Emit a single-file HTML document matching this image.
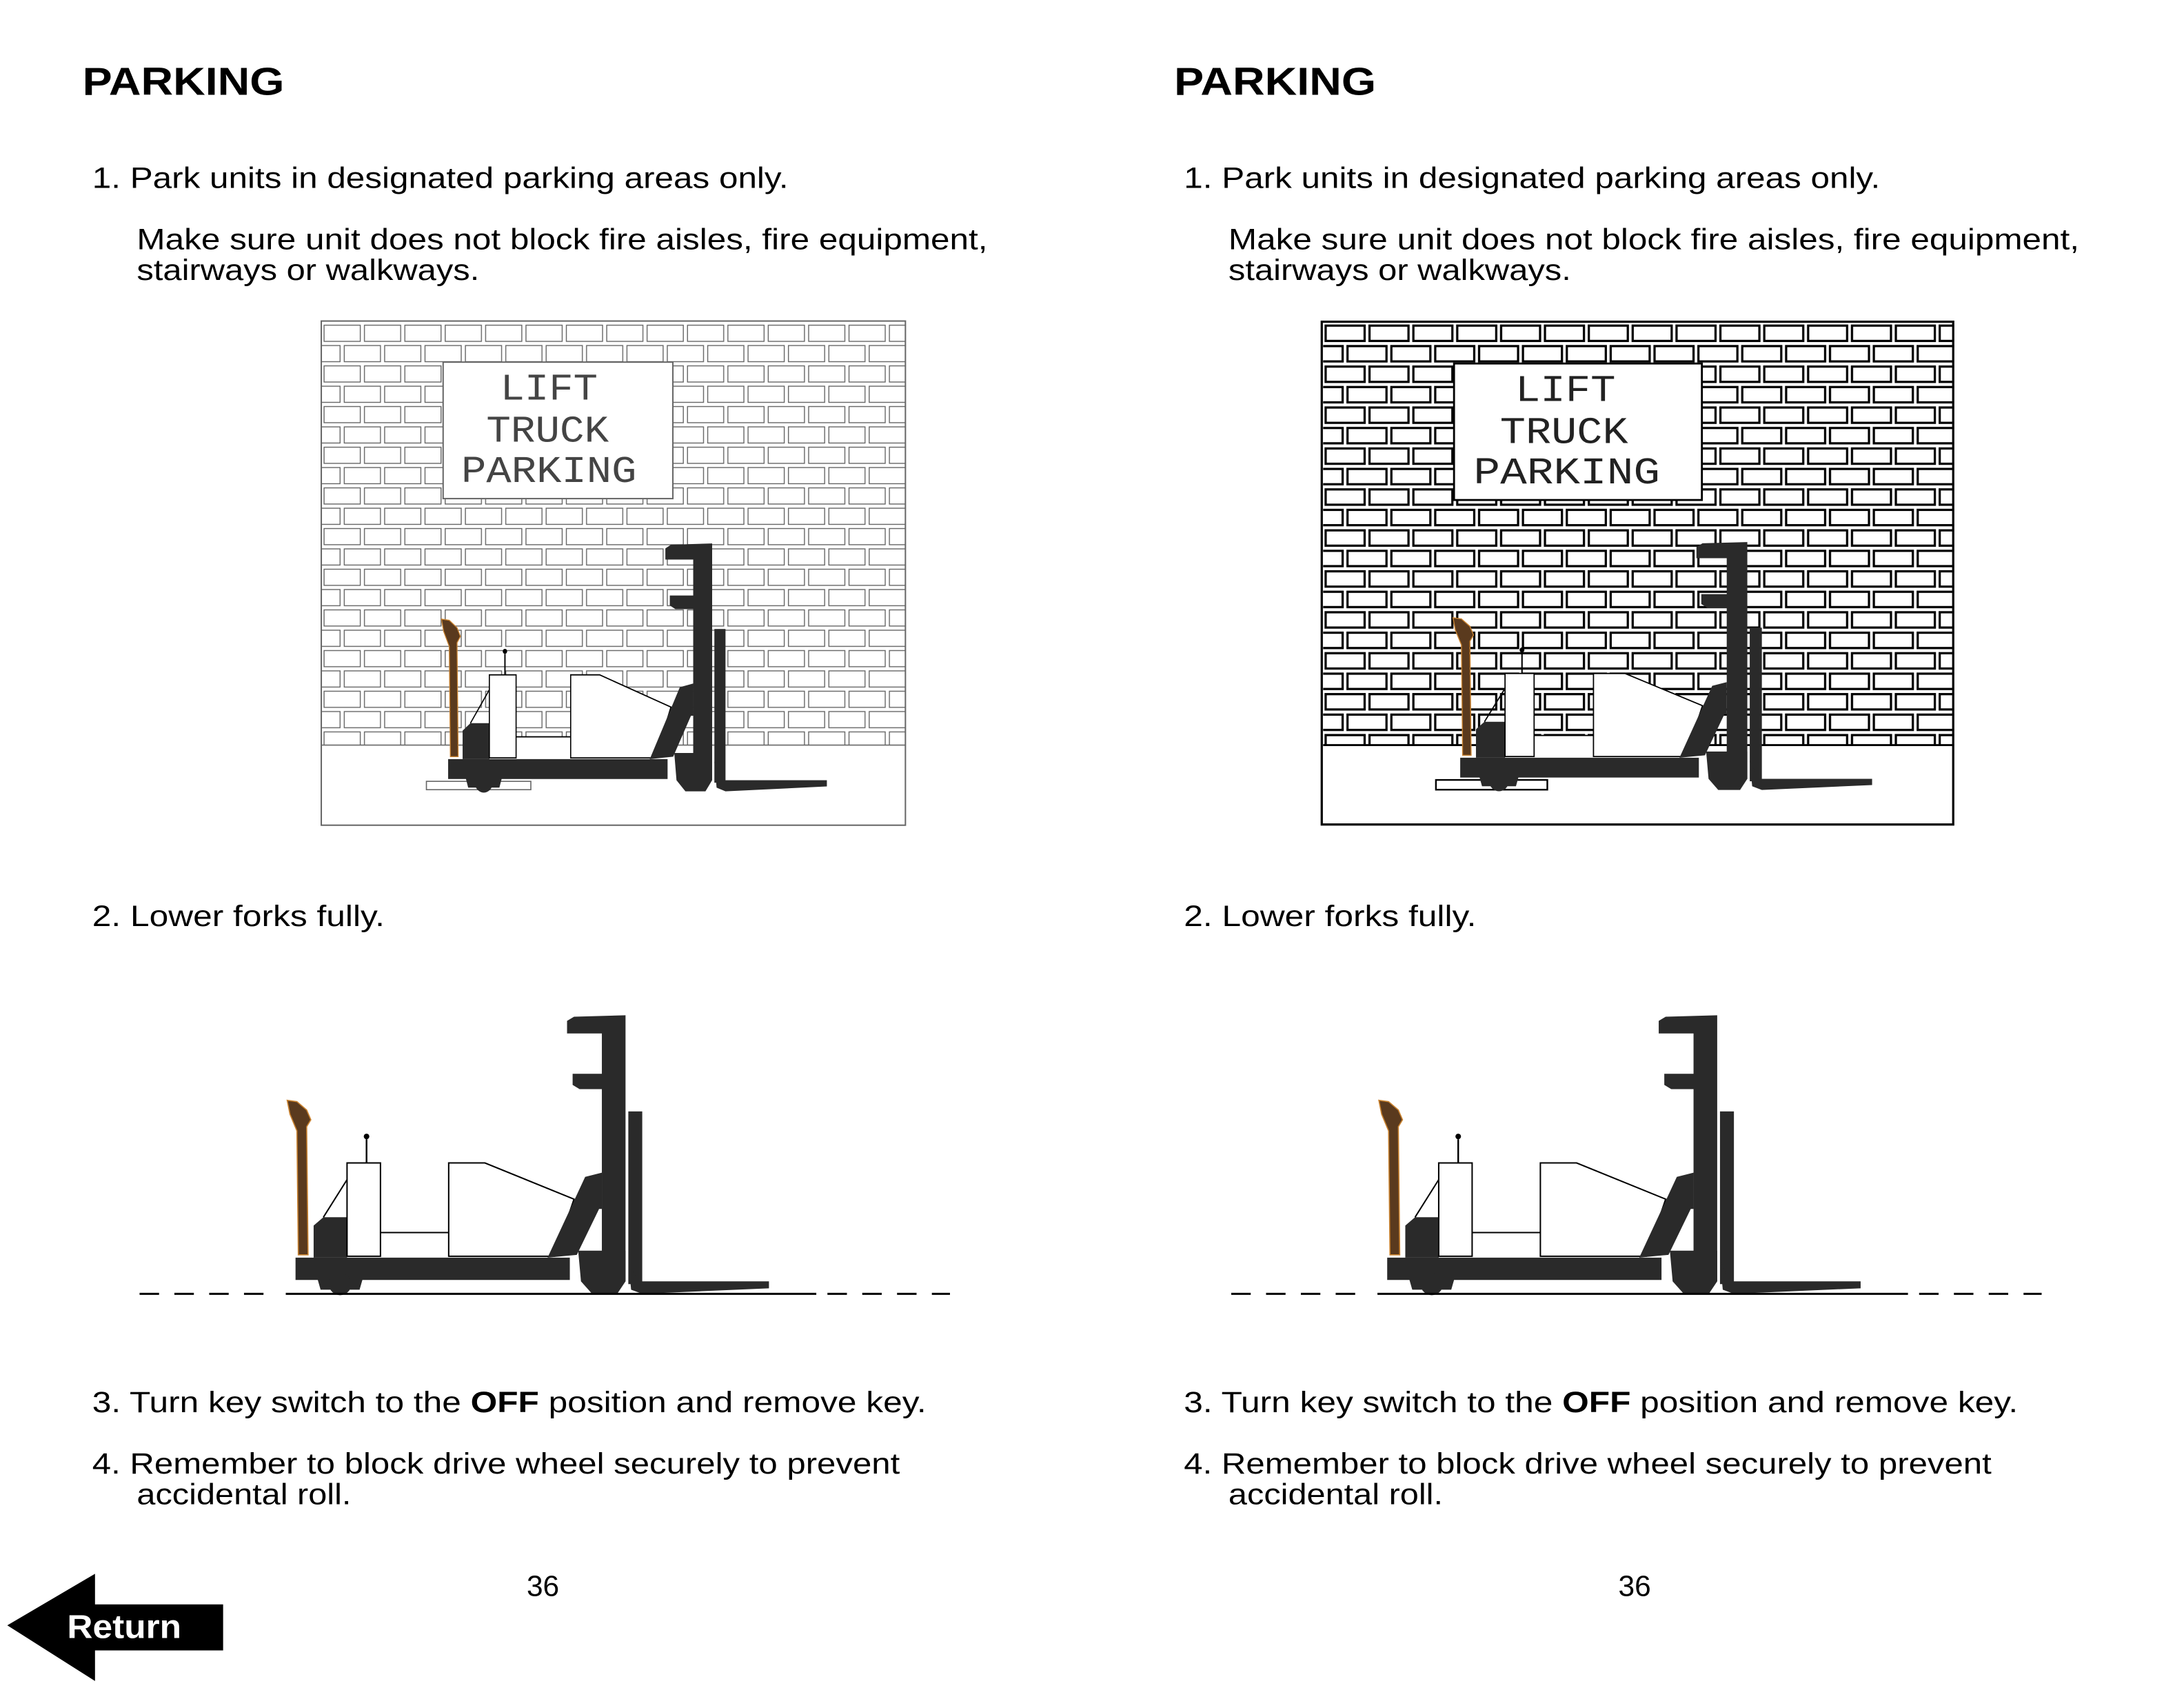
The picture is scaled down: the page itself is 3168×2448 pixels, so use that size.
<!DOCTYPE html>
<html><head><meta charset="utf-8"><style>
html,body{margin:0;padding:0;background:#fff;}
svg{display:block;}
</style></head><body>
<svg width="3168" height="2448" viewBox="0 0 1568 1212" xmlns="http://www.w3.org/2000/svg">
<defs>
<pattern id="bl" x="231" y="232" width="58" height="29.2" patternUnits="userSpaceOnUse">
<g fill="none" stroke="#666" stroke-width="0.7">
<rect x="1.5" y="1.5" width="26" height="11.6"/><rect x="30.5" y="1.5" width="26" height="11.6"/>
<rect x="-13" y="16.1" width="26" height="11.6"/><rect x="16" y="16.1" width="26" height="11.6"/><rect x="45" y="16.1" width="26" height="11.6"/>
</g></pattern>
<pattern id="br" x="950" y="232" width="63" height="29.4" patternUnits="userSpaceOnUse">
<g fill="none" stroke="#000" stroke-width="1.6">
<rect x="1.8" y="1.8" width="28" height="11"/><rect x="33.3" y="1.8" width="28" height="11"/>
<rect x="-14" y="16.5" width="28" height="11"/><rect x="17.5" y="16.5" width="28" height="11"/><rect x="49" y="16.5" width="28" height="11"/>
</g></pattern>
<g id="fk">
<path d="M206,790 L213,791 L220,797 L223,804 L220,809 L221,901 L214,901 L213,812 L208,800 Z" fill="#5a3a1e" stroke="#c9822f" stroke-width="0.8"/>
<rect x="273" y="885" width="49" height="17" fill="#fff"/>
<path d="M322,902 L322,835 L348,835 L412,861 L398,902 Z" fill="#fff" stroke="#000" stroke-width="1"/>
<path d="M212,903 L409,903 L409,919 L260,919 L258,926 L230,926 L228,919 L212,919 Z" fill="#2a2a2a"/>
<circle cx="244" cy="922" r="8" fill="#2a2a2a"/>
<path d="M225,903 L225,880 L232,874 L249,874 L249,903 Z" fill="#2a2a2a"/>
<line x1="232" y1="874" x2="249" y2="847" stroke="#000" stroke-width="1"/>
<rect x="249" y="835" width="24" height="67" fill="#fff" stroke="#000" stroke-width="1"/>
<line x1="263" y1="835" x2="263" y2="818" stroke="#000" stroke-width="1.2"/><circle cx="263" cy="816" r="2" fill="#000"/>
<line x1="273" y1="885" x2="322" y2="885" stroke="#000" stroke-width="1"/>
<path d="M393,903 L420,845 L432,842 L432,868 L430,868 L414,901 Z" fill="#2a2a2a"/>
<path d="M415,898 L449,898 L449,920 L443,929 L425,929 L417,920 Z" fill="#2a2a2a"/>
<path d="M407,733 L412,730 L449,729 L449,920 L432,920 L432,782 L416,782 L411,779 L411,771 L432,771 L432,742 L407,742 Z" fill="#2a2a2a"/>
<rect x="451" y="798" width="10" height="124" fill="#2a2a2a"/>
<path d="M451,905 L458,920 L552,920 L552,925 L461,929 L453,926 Z" fill="#2a2a2a"/>
</g>
</defs>
<g font-family="Liberation Sans, sans-serif" fill="#000">
<text x="59" y="68" font-size="28" font-weight="bold" textLength="145" lengthAdjust="spacingAndGlyphs">PARKING</text>
<text x="843" y="68" font-size="28" font-weight="bold" textLength="145" lengthAdjust="spacingAndGlyphs">PARKING</text>
<g font-size="21">
<text x="66" y="135" textLength="500" lengthAdjust="spacingAndGlyphs">1. Park units in designated parking areas only.</text>
<text x="98" y="179" textLength="611" lengthAdjust="spacingAndGlyphs">Make sure unit does not block fire aisles, fire equipment,</text>
<text x="98" y="201" textLength="246" lengthAdjust="spacingAndGlyphs">stairways or walkways.</text>
<text x="66" y="665" textLength="210" lengthAdjust="spacingAndGlyphs">2. Lower forks fully.</text>
<text x="66" y="1014" textLength="599" lengthAdjust="spacingAndGlyphs">3. Turn key switch to the <tspan font-weight="bold">OFF</tspan> position and remove key.</text>
<text x="66" y="1058" textLength="580" lengthAdjust="spacingAndGlyphs">4. Remember to block drive wheel securely to prevent</text>
<text x="98" y="1080" textLength="154" lengthAdjust="spacingAndGlyphs">accidental roll.</text>
<text x="378" y="1146">36</text>
<g transform="translate(784,0)">
<text x="66" y="135" textLength="500" lengthAdjust="spacingAndGlyphs">1. Park units in designated parking areas only.</text>
<text x="98" y="179" textLength="611" lengthAdjust="spacingAndGlyphs">Make sure unit does not block fire aisles, fire equipment,</text>
<text x="98" y="201" textLength="246" lengthAdjust="spacingAndGlyphs">stairways or walkways.</text>
<text x="66" y="665" textLength="210" lengthAdjust="spacingAndGlyphs">2. Lower forks fully.</text>
<text x="66" y="1014" textLength="599" lengthAdjust="spacingAndGlyphs">3. Turn key switch to the <tspan font-weight="bold">OFF</tspan> position and remove key.</text>
<text x="66" y="1058" textLength="580" lengthAdjust="spacingAndGlyphs">4. Remember to block drive wheel securely to prevent</text>
<text x="98" y="1080" textLength="154" lengthAdjust="spacingAndGlyphs">accidental roll.</text>
<text x="378" y="1146">36</text>
</g>
</g>
</g>
<!-- left panel -->
<rect x="231" y="232" width="419" height="303" fill="url(#bl)"/>
<rect x="230.5" y="230.5" width="419.5" height="362" fill="none" stroke="#666" stroke-width="1"/>
<line x1="231" y1="535" x2="650" y2="535" stroke="#666" stroke-width="0.8"/>
<rect x="318" y="260" width="165" height="98" fill="#fff" stroke="#666" stroke-width="1"/>
<g font-family="Liberation Mono, monospace" font-size="27" fill="#444" text-anchor="middle">
<text x="394" y="287" textLength="70" lengthAdjust="spacingAndGlyphs">LIFT</text>
<text x="393" y="317" textLength="88" lengthAdjust="spacingAndGlyphs">TRUCK</text>
<text x="394" y="346" textLength="126" lengthAdjust="spacingAndGlyphs">PARKING</text>
</g>
<rect x="306" y="561" width="75" height="6" fill="#fff" stroke="#666" stroke-width="0.8"/>
<use href="#fk" transform="matrix(0.8 0 0 0.89 152 -258.6)"/>
<!-- right panel -->
<rect x="950" y="232" width="452" height="303" fill="url(#br)"/>
<rect x="949" y="231" width="453.5" height="361" fill="none" stroke="#000" stroke-width="1.6"/>
<line x1="950" y1="535" x2="1402" y2="535" stroke="#000" stroke-width="1.4"/>
<rect x="1044" y="261" width="178" height="98" fill="#fff" stroke="#000" stroke-width="1.4"/>
<g font-family="Liberation Mono, monospace" font-size="27" fill="#222" text-anchor="middle">
<text x="1124" y="288" textLength="72" lengthAdjust="spacingAndGlyphs">LIFT</text>
<text x="1123" y="318" textLength="92" lengthAdjust="spacingAndGlyphs">TRUCK</text>
<text x="1125" y="347" textLength="134" lengthAdjust="spacingAndGlyphs">PARKING</text>
</g>
<rect x="1031" y="560" width="80" height="7" fill="#fff" stroke="#000" stroke-width="1.2"/>
<use href="#fk" transform="matrix(0.87 0 0 0.89 864 -259.6)"/>
<!-- bottom forklifts -->
<use href="#fk"/>
<use href="#fk" transform="translate(784,0)"/>
<g stroke="#000" stroke-width="1.5">
<line x1="100" y1="929" x2="200" y2="929" stroke-dasharray="14,11"/>
<line x1="205" y1="929" x2="586" y2="929"/>
<line x1="594" y1="929" x2="682" y2="929" stroke-dasharray="14,11"/>
<line x1="884" y1="929" x2="984" y2="929" stroke-dasharray="14,11"/>
<line x1="989" y1="929" x2="1370" y2="929"/>
<line x1="1378" y1="929" x2="1466" y2="929" stroke-dasharray="14,11"/>
</g>
<!-- return button -->
<path d="M5,1167 L68,1130 L68,1152 L160,1152 L160,1185 L68,1185 L68,1207 Z" fill="#000"/>
<text x="48" y="1176" font-family="Liberation Sans, sans-serif" font-size="24" font-weight="bold" fill="#fff" textLength="82" lengthAdjust="spacingAndGlyphs">Return</text>
</svg>
</body></html>
